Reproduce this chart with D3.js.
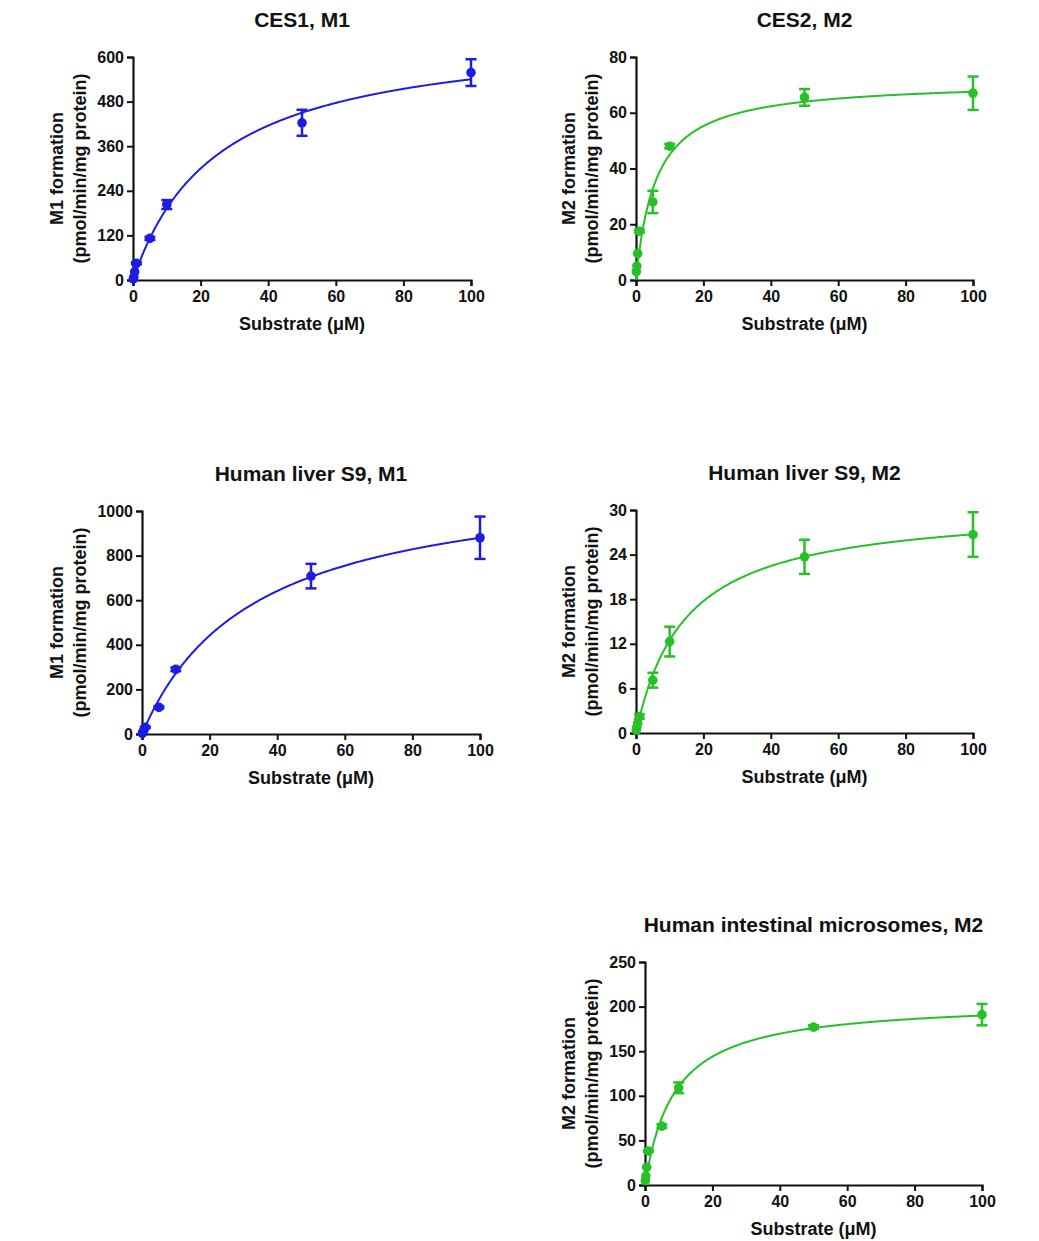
<!DOCTYPE html>
<html><head><meta charset="utf-8">
<script src="https://cdn.jsdelivr.net/npm/d3@7"></script>
<style>
html,body{margin:0;padding:0;background:#fff;}
svg{display:block;}
text{font-family:"Liberation Sans",Arial,sans-serif;font-weight:bold;fill:#111;}
</style></head>
<body>
<svg id="chart" width="1039" height="1241"></svg>
<script>
// ---- data ----
const substrate = [0.1, 0.25, 0.5, 1, 5, 10, 50, 100];

const titles = ["CES1, M1", "CES2, M2", "Human liver S9, M1", "Human liver S9, M2", "Human intestinal microsomes, M2"];
const yLabels = ["M1 formation", "M2 formation", "M1 formation", "M2 formation", "M2 formation"];
const yLabel2 = "(pmol/min/mg protein)";
const xLabel = "Substrate (μM)";

const ces1M1 = [3, 8, 22, 45, 112, 203, 423, 558];
const ces1M1Err = [0, 0, 0, 3, 4, 12, 35, 36];
const ces2M2 = [3, 5, 9.5, 17.5, 28, 48, 65.5, 67];
const ces2M2Err = [0, 0, 0, 0.5, 4, 0.8, 3, 6];
const hls9M1 = [3, 8, 15, 30, 120, 290, 708, 880];
const hls9M1Err = [0, 0, 0, 3, 5, 8, 55, 95];
const hls9M2 = [0.4, 0.8, 1.3, 2.2, 7.1, 12.3, 23.7, 26.7];
const hls9M2Err = [0, 0, 0, 0.3, 1, 2, 2.3, 3];
const himM2 = [5, 10, 20, 38, 66, 109, 177, 191];
const himM2Err = [0, 0, 0, 1, 2, 6, 2, 12];

// Michaelis-Menten fit parameters [Vmax, Km]
const fitCes1M1 = [675, 25];
const fitCes2M2 = [71.5, 5.9];
const fitHls9M1 = [1170, 33];
const fitHls9M2 = [30.6, 14.5];
const fitHimM2 = [206.5, 8.7];

const yMax = [600, 80, 1000, 30, 250];
const yTicks = [[0,120,240,360,480,600],[0,20,40,60,80],[0,200,400,600,800,1000],[0,6,12,18,24,30],[0,50,100,150,200,250]];
const xTicks = [0, 20, 40, 60, 80, 100];

const seriesVals = [ces1M1, ces2M2, hls9M1, hls9M2, himM2];
const seriesErrs = [ces1M1Err, ces2M2Err, hls9M1Err, hls9M2Err, himM2Err];
const fits = [fitCes1M1, fitCes2M2, fitHls9M1, fitHls9M2, fitHimM2];

// ---- layout ----
const BLUE = "#1c1ce2", GREEN = "#27c127";
const colors = [BLUE, GREEN, BLUE, GREEN, GREEN];
const boxes = [ // left, right, top, bottom
  [133, 471, 57, 280],
  [636, 973, 57, 280],
  [142, 480, 511, 734],
  [636, 973, 510, 733],
  [645, 982, 962, 1185]
];
const yLabOff = [[-76, -53], [-67, -44], [-85, -62], [-67, -44], [-76, -53]];

const svg = d3.select("#chart");
const fmt = d3.format("d");

titles.forEach((t, i) => {
  const [L, R, T, B] = boxes[i];
  const x = d3.scaleLinear().domain([0, 100]).range([L, R]);
  const y = d3.scaleLinear().domain([0, yMax[i]]).range([B, T]);
  const g = svg.append("g");
  const col = colors[i];

  // axes
  const xa = g.append("g").attr("transform", `translate(0,${B})`)
    .call(d3.axisBottom(x).tickValues(xTicks).tickFormat(fmt).tickSize(6).tickPadding(5));
  const ya = g.append("g").attr("transform", `translate(${L},0)`)
    .call(d3.axisLeft(y).tickValues(yTicks[i]).tickFormat(fmt).tickSize(6).tickPadding(3));
  [xa, ya].forEach(a => {
    a.selectAll("path").attr("stroke", "#111").attr("stroke-width", 2.2);
    a.selectAll("line").attr("stroke", "#111").attr("stroke-width", 2);
    a.selectAll("text").style("font-size", "16px").attr("fill", "#111");
  });

  // fitted curve
  const [vmax, km] = fits[i];
  const xs = d3.range(0, 400.5).map(k => k / 4);
  const line = d3.line().x(s => x(s)).y(s => y(vmax * s / (km + s)));
  g.append("path").attr("d", line(xs)).attr("fill", "none").attr("stroke", col).attr("stroke-width", 2);

  // error bars + points
  const vals = seriesVals[i], errs = seriesErrs[i];
  substrate.forEach((s, j) => {
    const v = vals[j], e = errs[j];
    if (e > 0) {
      const cx = x(s);
      g.append("line").attr("x1", cx).attr("x2", cx).attr("y1", y(v - e)).attr("y2", y(v + e))
        .attr("stroke", col).attr("stroke-width", 2.5);
      [v - e, v + e].forEach(yy => g.append("line").attr("x1", cx - 5.5).attr("x2", cx + 5.5)
        .attr("y1", y(yy)).attr("y2", y(yy)).attr("stroke", col).attr("stroke-width", 2.5));
    }
    g.append("circle").attr("cx", x(s)).attr("cy", y(v)).attr("r", 4.8).attr("fill", col);
  });

  // titles & labels
  g.append("text").attr("x", (L + R) / 2).attr("y", T - 30).attr("text-anchor", "middle")
    .style("font-size", "21px").text(t);
  g.append("text").attr("x", (L + R) / 2).attr("y", B + 50).attr("text-anchor", "middle")
    .style("font-size", "18px").text(xLabel);
  const cy = (T + B) / 2;
  g.append("text").attr("transform", `translate(${L + yLabOff[i][0]},${cy}) rotate(-90)`)
    .attr("text-anchor", "middle").attr("dy", "0.35em").style("font-size", "18px").text(yLabels[i]);
  g.append("text").attr("transform", `translate(${L + yLabOff[i][1]},${cy}) rotate(-90)`)
    .attr("text-anchor", "middle").attr("dy", "0.35em").style("font-size", "18px").text(yLabel2);
});
</script>
</body></html>
